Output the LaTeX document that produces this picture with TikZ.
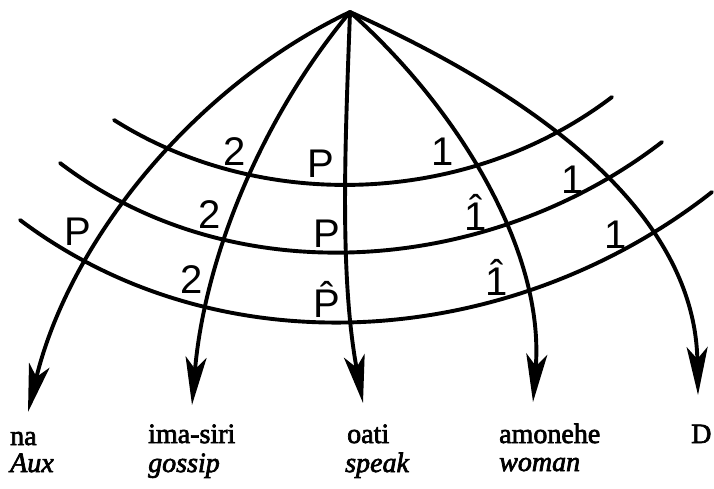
\documentclass[tikz,border=0pt]{standalone}
\usepackage{fontspec}
\setmainfont{Liberation Serif}
\newfontfamily\wordfont[FakeBold=2.5]{Liberation Serif}
\newfontfamily\labfont{Liberation Sans}
\usetikzlibrary{arrows.meta}
\newcommand{\hatone}{{\accent"02C6 1}}
\newcommand{\hatP}{{\accent"02C6 P}}
\begin{document}
\begin{tikzpicture}[x=1pt,y=-1pt,
  curve/.style={line width=3.9pt, line cap=round, line join=round},
  arr/.style={curve, -{Stealth[length=48pt,width=21pt,inset=12pt]}},
  lab/.style={font=\labfont\fontsize{40}{40}\selectfont, inner sep=0pt, anchor=base},
  word/.style={font=\wordfont\fontsize{28}{28}\selectfont, anchor=base west, inner sep=0pt}]
\useasboundingbox (0,0) rectangle (714,488);
\coordinate (apex) at (350,12);
\coordinate (tna) at (28,412);
\coordinate (tima) at (192,405);
\coordinate (toati) at (363,403);
\coordinate (tamo) at (533,402);
\coordinate (tD) at (698,395);
% radial arcs
\draw[arr] (apex) .. controls (193.2,86.8) and (69.3,241.2) .. (tna);
\draw[arr] (apex) .. controls (258.3,122) and (204.2,262) .. (tima);
\draw[arr] (apex) .. controls (345.3,140.8) and (339.2,274.2) .. (toati);
\draw[arr] (apex) .. controls (457.5,107.5) and (545,251) .. (tamo);
\draw[arr] (apex) .. controls (506.5,82.7) and (694.5,198.3) .. (tD);
% transverse arcs
\coordinate (a1) at (114,120); \coordinate (b1) at (612,97);
\coordinate (a2) at (60,163);  \coordinate (b2) at (662,142);
\coordinate (a3) at (20,220);  \coordinate (b3) at (712,192);
\draw[curve] (a1) .. controls (263.5,214.3) and (470,205.2) .. (b1);
\draw[curve] (a2) .. controls (236.7,297.5) and (492.8,272.5) .. (b2);
\draw[curve] (a3) .. controls (223.7,373.2) and (514.3,347.3) .. (b3);
% labels
\node[lab] (l2a) at (235,165) {2};
\node[lab] (lPa) at (321,177) {P};
\node[lab] (l1a) at (443,165) {1};
\node[lab] (lPb) at (78,245) {P};
\node[lab] (l2b) at (210,228) {2};
\node[lab] (lPc) at (327,247) {P};
\node[lab] (l1b) at (476,230) {\hatone};
\node[lab] (l1c) at (573,193) {1};
\node[lab] (l2c) at (192,293) {2};
\node[lab] (lPd) at (327,317) {\hatP};
\node[lab] (l1d) at (497,295) {\hatone};
\node[lab] (l1e) at (616,248) {1};
% words
\node[word] (na) at (10,445) {na};
\node[word] (aux) at (10,472) {\itshape Aux};
\node[word] (ima) at (148,443) {ima-siri};
\node[word] (gos) at (148,472) {\itshape gossip};
\node[word] (oati) at (347,443) {oati};
\node[word] (spk) at (345,472) {\itshape speak};
\node[word] (amo) at (499,443) {amonehe};
\node[word] (wom) at (499,471) {\itshape woman};
\node[word] (D) at (691,443) {D};
\end{tikzpicture}
\end{document}
